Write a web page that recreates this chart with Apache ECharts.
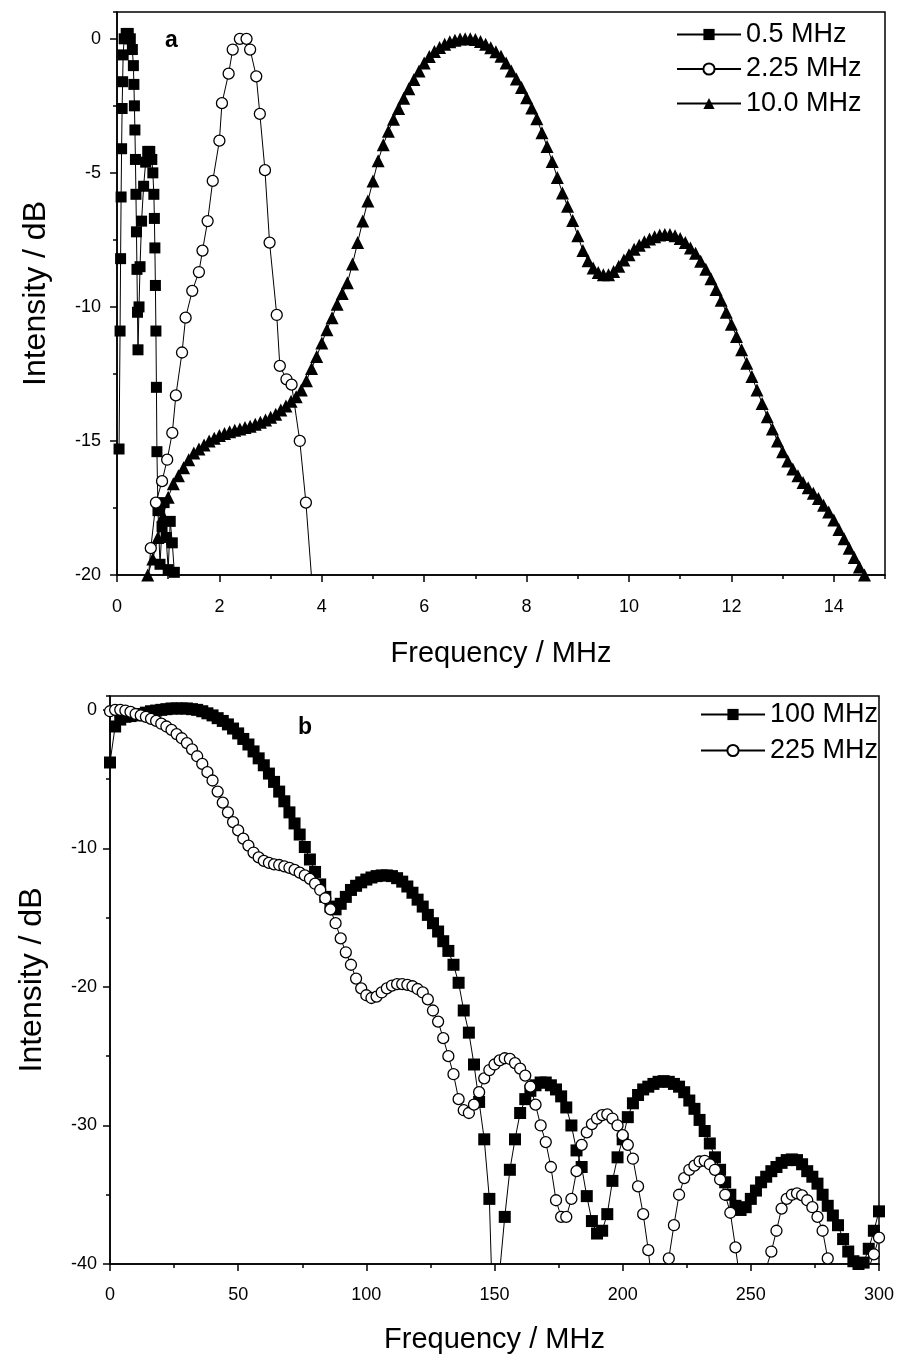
<!DOCTYPE html>
<html>
<head>
<meta charset="utf-8">
<script src="https://cdn.jsdelivr.net/npm/echarts@6/dist/echarts.min.js"></script>
<style>
html,body{margin:0;padding:0;background:#fff;}
#chart{width:902px;height:1360px;}
</style>
</head>
<body>
<div id="chart"></div>
<script>
// ---------- Panel a ----------
const freqA05 = [0.04,0.06,0.07,0.08,0.09,0.10,0.11,0.12,0.14,0.18,0.22,0.26,0.30,0.32,0.33,0.34,0.35,0.36,0.37,0.38,0.39,0.40,0.41,0.43,0.45,0.48,0.52,0.56,0.60,0.64,0.68,0.70,0.72,0.73,0.74,0.75,0.76,0.77,0.78,0.80,0.84,0.88,0.92,0.96,1.00,1.04,1.08,1.12];
const dbA05 = [-15.3,-10.9,-8.2,-5.9,-4.1,-2.6,-1.6,-0.6,0.0,0.2,0.2,0.0,-0.4,-1.0,-1.7,-2.5,-3.4,-4.5,-5.8,-7.2,-8.6,-10.2,-11.6,-10.0,-8.5,-6.8,-5.5,-4.6,-4.2,-4.2,-4.5,-5.0,-5.8,-6.7,-7.8,-9.2,-10.9,-13.0,-15.4,-17.6,-19.6,-18.2,-17.3,-18.6,-19.8,-18.0,-18.8,-19.9];

const freqA225 = [0.60,0.66,0.76,0.88,0.98,1.08,1.15,1.27,1.34,1.47,1.60,1.67,1.77,1.87,2.00,2.05,2.18,2.26,2.40,2.53,2.60,2.72,2.79,2.89,2.98,3.12,3.18,3.31,3.41,3.57,3.69,3.82];
const dbA225 = [-20.4,-19.0,-17.3,-16.5,-15.7,-14.7,-13.3,-11.7,-10.4,-9.4,-8.7,-7.9,-6.8,-5.3,-3.8,-2.4,-1.3,-0.4,0.0,0.0,-0.4,-1.4,-2.8,-4.9,-7.6,-10.3,-12.2,-12.7,-12.9,-15.0,-17.3,-20.6];

const freqA10 = [0.6,0.7,0.8,0.9,1.0,1.1,1.2,1.3,1.4,1.5,
  1.6,1.7,1.8,1.9,2.0,2.1,2.2,2.3,2.4,2.5,
  2.6,2.7,2.8,2.9,3.0,3.1,3.2,3.3,3.4,3.5,
  3.6,3.7,3.8,3.9,4.0,4.1,4.2,4.3,4.4,4.5,
  4.6,4.7,4.8,4.9,5.0,5.1,5.2,5.3,5.4,5.5,
  5.6,5.7,5.8,5.9,6.0,6.1,6.2,6.3,6.4,6.5,
  6.6,6.7,6.8,6.9,7.0,7.1,7.2,7.3,7.4,7.5,
  7.6,7.7,7.8,7.9,8.0,8.1,8.2,8.3,8.4,8.5,
  8.6,8.7,8.8,8.9,9.0,9.1,9.2,9.3,9.4,9.5,
  9.6,9.7,9.8,9.9,10.0,10.1,10.2,10.3,10.4,10.5,
  10.6,10.7,10.8,10.9,11.0,11.1,11.2,11.3,11.4,11.5,
  11.6,11.7,11.8,11.9,12.0,12.1,12.2,12.3,12.4,12.5,
  12.6,12.7,12.8,12.9,13.0,13.1,13.2,13.3,13.4,13.5,
  13.6,13.7,13.8,13.9,14.0,14.1,14.2,14.3,14.4,14.5,
  14.6];
const dbA10 = [-20.0,-19.4,-18.6,-17.8,-17.1,-16.6,-16.3,-16.0,-15.7,-15.45,
  -15.3,-15.15,-15.0,-14.9,-14.8,-14.72,-14.66,-14.6,-14.55,-14.5,
  -14.45,-14.38,-14.3,-14.22,-14.12,-14.0,-13.85,-13.7,-13.52,-13.35,
  -13.1,-12.75,-12.3,-11.85,-11.35,-10.85,-10.4,-9.9,-9.5,-9.1,
  -8.4,-7.6,-6.8,-6.05,-5.3,-4.55,-3.95,-3.45,-3.0,-2.6,
  -2.22,-1.86,-1.52,-1.2,-0.9,-0.66,-0.47,-0.32,-0.2,-0.11,
  -0.05,-0.01,0.0,0.0,-0.03,-0.1,-0.2,-0.33,-0.48,-0.65,
  -0.9,-1.2,-1.5,-1.82,-2.2,-2.58,-2.98,-3.5,-4.02,-4.58,
  -5.17,-5.75,-6.25,-6.78,-7.35,-7.9,-8.28,-8.55,-8.72,-8.8,
  -8.8,-8.68,-8.48,-8.25,-8.05,-7.85,-7.7,-7.57,-7.47,-7.38,
  -7.32,-7.3,-7.3,-7.35,-7.45,-7.6,-7.8,-8.0,-8.3,-8.6,
  -8.95,-9.35,-9.75,-10.2,-10.65,-11.1,-11.6,-12.1,-12.6,-13.1,
  -13.6,-14.1,-14.55,-15.0,-15.4,-15.75,-16.05,-16.3,-16.55,-16.75,
  -16.95,-17.15,-17.4,-17.65,-17.95,-18.3,-18.65,-19.0,-19.35,-19.7,
  -20.0];

// ---------- Panel b ----------
const freqB = [0,2,4,6,8,10,12,14,16,18,
  20,22,24,26,28,30,32,34,36,38,
  40,42,44,46,48,50,52,54,56,58,
  60,62,64,66,68,70,72,74,76,78,
  80,82,84,86,88,90,92,94,96,98,
  100,102,104,106,108,110,112,114,116,118,
  120,122,124,126,128,130,132,134,136,138,
  140,142,144,146,148,150,152,154,156,158,
  160,162,164,166,168,170,172,174,176,178,
  180,182,184,186,188,190,192,194,196,198,
  200,202,204,206,208,210,212,214,216,218,
  220,222,224,226,228,230,232,234,236,238,
  240,242,244,246,248,250,252,254,256,258,
  260,262,264,266,268,270,272,274,276,278,
  280,282,284,286,288,290,292,294,296,298,
  300];
const dbB100 = [-3.8,-1.2,-0.7,-0.5,-0.45,-0.4,-0.3,-0.2,-0.1,-0.05,
  0.0,0.05,0.1,0.1,0.1,0.1,0.05,0.0,-0.1,-0.25,
  -0.4,-0.6,-0.8,-1.05,-1.35,-1.7,-2.1,-2.5,-3.0,-3.5,
  -4.0,-4.6,-5.2,-5.9,-6.6,-7.4,-8.2,-9.0,-9.9,-10.8,
  -11.7,-12.6,-13.5,-14.2,-14.4,-14.0,-13.5,-13.0,-12.7,-12.45,
  -12.25,-12.1,-12.0,-11.95,-11.95,-12.0,-12.15,-12.4,-12.75,-13.2,
  -13.7,-14.2,-14.8,-15.4,-16.0,-16.7,-17.4,-18.4,-19.7,-21.7,
  -23.3,-25.6,-28.3,-31.0,-35.3,-48.0,-40.6,-36.6,-33.2,-31.0,
  -29.1,-28.1,-27.5,-27.1,-26.9,-26.9,-27.1,-27.4,-27.9,-28.7,
  -30.0,-31.8,-33.0,-35.1,-36.9,-37.8,-37.6,-36.4,-34.0,-32.3,
  -31.0,-29.4,-28.4,-27.8,-27.4,-27.2,-27.0,-26.85,-26.8,-26.85,
  -27.0,-27.2,-27.6,-28.2,-28.8,-29.6,-30.4,-31.3,-32.3,-33.2,
  -34.1,-35.0,-35.8,-36.1,-35.9,-35.3,-34.7,-34.1,-33.7,-33.3,
  -33.0,-32.7,-32.5,-32.45,-32.5,-32.8,-33.3,-33.7,-34.2,-35.0,
  -35.8,-36.5,-37.2,-38.2,-39.1,-39.8,-40.0,-39.9,-38.9,-37.6,
  -36.2];
const dbB225 = [-0.1,0.0,0.0,-0.05,-0.15,-0.3,-0.4,-0.5,-0.65,-0.8,
  -1.0,-1.2,-1.45,-1.75,-2.05,-2.4,-2.85,-3.35,-3.9,-4.5,
  -5.1,-5.9,-6.7,-7.4,-8.1,-8.7,-9.3,-9.8,-10.3,-10.65,
  -10.9,-11.05,-11.15,-11.2,-11.3,-11.4,-11.55,-11.75,-11.95,-12.2,
  -12.55,-13.0,-13.6,-14.4,-15.4,-16.5,-17.5,-18.4,-19.4,-20.1,
  -20.6,-20.8,-20.7,-20.4,-20.1,-19.9,-19.8,-19.8,-19.85,-19.95,
  -20.15,-20.4,-20.9,-21.7,-22.5,-23.7,-25.0,-26.3,-28.1,-28.9,
  -29.1,-28.5,-27.6,-26.6,-26.0,-25.6,-25.3,-25.15,-25.2,-25.5,
  -25.9,-26.4,-27.2,-28.5,-30.0,-31.2,-33.0,-35.4,-36.6,-36.6,
  -35.3,-33.3,-31.4,-30.5,-29.9,-29.5,-29.25,-29.2,-29.5,-30.0,
  -30.7,-31.4,-32.4,-34.4,-36.4,-39.0,-42.5,-46.0,-42.5,-39.6,
  -37.2,-35.0,-33.8,-33.2,-32.9,-32.6,-32.55,-32.8,-33.2,-33.9,
  -35.0,-36.3,-38.8,-41.5,-45.0,-48.0,-45.0,-42.5,-40.3,-39.1,
  -37.6,-36.0,-35.3,-35.0,-34.9,-35.05,-35.4,-35.9,-36.6,-37.6,
  -39.6,-42.0,-46.0,-50.0,-48.0,-46.0,-44.0,-42.0,-40.3,-39.3,
  -38.1];

const seriesNamesA = ['0.5 MHz', '2.25 MHz', '10.0 MHz'];
const seriesNamesB = ['100 MHz', '225 MHz'];

function pairs(xs, ys) { return xs.map(function (x, i) { return [x, ys[i]]; }); }

const FONT = 'Liberation Sans, Arial, sans-serif';
const black = '#000';

function mainX(grid, min, max, interval, labelMargin, showMax, nameGap) {
  return {
    type: 'value', gridIndex: grid, min: min, max: max, interval: interval, position: 'bottom',
    axisLine: { show: true, onZero: false, lineStyle: { color: black, width: 1.5 } },
    axisTick: { show: true, inside: false, length: 7, lineStyle: { color: black, width: 1.5 } },
    axisLabel: { color: black, fontSize: 18, fontFamily: FONT, margin: labelMargin, showMaxLabel: showMax, showMinLabel: true },
    splitLine: { show: false },
    name: 'Frequency / MHz', nameLocation: 'middle', nameGap: nameGap,
    nameTextStyle: { color: black, fontSize: 29, fontFamily: FONT }
  };
}
function minorX(grid, min, max, interval) {
  return {
    type: 'value', gridIndex: grid, min: min, max: max, interval: interval, position: 'bottom',
    axisLine: { show: false, onZero: false },
    axisTick: { show: true, inside: false, length: 4, lineStyle: { color: black, width: 1.5 } },
    axisLabel: { show: false }, splitLine: { show: false }
  };
}
function mainY(grid, min, max, interval, labelMargin, nameGap) {
  return {
    type: 'value', gridIndex: grid, min: min, max: max, interval: interval, position: 'left',
    axisLine: { show: true, onZero: false, lineStyle: { color: black, width: 1.5 } },
    axisTick: { show: true, inside: false, length: 7, lineStyle: { color: black, width: 1.5 } },
    axisLabel: { color: black, fontSize: 18, fontFamily: FONT, margin: labelMargin, showMaxLabel: false },
    splitLine: { show: false },
    name: 'Intensity / dB', nameLocation: 'middle', nameGap: nameGap,
    nameTextStyle: { color: black, fontSize: 32, fontFamily: FONT }
  };
}
function minorY(grid, min, max, interval) {
  return {
    type: 'value', gridIndex: grid, min: min, max: max, interval: interval, position: 'left',
    axisLine: { show: false, onZero: false },
    axisTick: { show: true, inside: false, length: 4, lineStyle: { color: black, width: 1.5 } },
    axisLabel: { show: false }, splitLine: { show: false }
  };
}
function lineSeries(name, xi, yi, data, symbol, size, hollow) {
  return {
    name: name, type: 'line', xAxisIndex: xi, yAxisIndex: yi, data: data,
    symbol: symbol, symbolSize: size, showSymbol: true, clip: true, silent: true,
    lineStyle: { color: black, width: 1 },
    itemStyle: hollow ? { color: '#fff', borderColor: black, borderWidth: 1.3 } : { color: black, borderColor: black, borderWidth: 0 },
    emphasis: { disabled: true },
    animation: false
  };
}

const legendText = { color: black, fontSize: 27, fontFamily: FONT, lineHeight: 25 };

const chart = echarts.init(document.getElementById('chart'), null, { renderer: 'canvas' });
chart.setOption({
  animation: false,
  backgroundColor: '#fff',
  textStyle: { fontFamily: FONT },
  grid: [
    { left: 117, top: 12, width: 768, height: 563, show: true, borderColor: black, borderWidth: 1.5, backgroundColor: 'transparent' },
    { left: 110, top: 696, width: 769, height: 568, show: true, borderColor: black, borderWidth: 1.5, backgroundColor: 'transparent' }
  ],
  xAxis: [
    mainX(0, 0, 15, 2, 23, false, 64),
    minorX(0, 0, 15, 1),
    mainX(1, 0, 300, 50, 22, true, 61),
    minorX(1, 0, 300, 25)
  ],
  yAxis: [
    mainY(0, -20, 1, 5, 16, 65),
    minorY(0, -20, 1, 2.5),
    mainY(1, -40, 1, 10, 13, 62),
    minorY(1, -40, 1, 5)
  ],
  legend: [
    {
      data: seriesNamesA, orient: 'vertical', left: 671, top: 16,
      itemWidth: 64, itemHeight: 14, itemGap: 7.5, selectedMode: false,
      textStyle: legendText
    },
    {
      data: seriesNamesB, orient: 'vertical', left: 695, top: 696,
      itemWidth: 64, itemHeight: 14, itemGap: 9, selectedMode: false,
      textStyle: legendText
    }
  ],
  graphic: [
    { type: 'text', left: 165, top: 29, style: { text: 'a', font: 'bold 23px ' + FONT, fill: black } },
    { type: 'text', left: 298, top: 716, style: { text: 'b', font: 'bold 23px ' + FONT, fill: black } }
  ],
  series: [
    lineSeries(seriesNamesA[0], 0, 0, pairs(freqA05, dbA05), 'rect', 11, false),
    lineSeries(seriesNamesA[2], 0, 0, pairs(freqA10, dbA10), 'triangle', 13, false),
    lineSeries(seriesNamesA[1], 0, 0, pairs(freqA225, dbA225), 'circle', 11, true),
    lineSeries(seriesNamesB[0], 2, 2, pairs(freqB, dbB100), 'rect', 12, false),
    lineSeries(seriesNamesB[1], 2, 2, pairs(freqB, dbB225), 'circle', 11, true)
  ]
});
</script>
</body>
</html>
